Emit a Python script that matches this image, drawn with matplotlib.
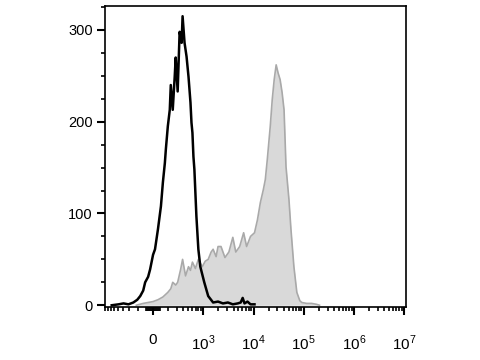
import numpy as np
import matplotlib
matplotlib.use("Agg")
import matplotlib.pyplot as plt

plt.rcParams['font.family'] = ['Liberation Sans', 'DejaVu Sans']
plt.rcParams['mathtext.fontset'] = 'custom'
plt.rcParams['mathtext.rm'] = 'Liberation Sans'

# unstained control (black line): fluorescence intensity vs count
ctrl_x = [-823, -686, -588, -490, -392, -314, -255, -196, -157, -98, -59, 0, 39, 98,
          157, 196, 235, 255, 294, 333, 353, 392, 431, 451, 490, 529, 569, 588, 627,
          667, 706, 745, 765, 784, 804, 823, 863, 902, 941, 1046, 1253, 1570, 1968,
          2465, 3090, 3873, 4853, 5560, 6085, 6620, 7580, 8720, 10470]
ctrl_y = [0, 1, 2, 1, 3, 6, 10, 16, 25, 31, 39, 55, 61, 83,
          108, 134, 155, 170, 195, 213, 240, 213, 249, 270, 233, 298, 286, 315, 286,
          271, 249, 221, 199, 188, 162, 148, 97, 61, 42, 25, 10, 3, 4,
          2, 3, 1, 2, 3, 8, 2, 4, 1, 1]

# stained sample (grey filled)
stain_x = [-333, -196, -98, 0, 98, 196, 294, 353, 392, 451, 490, 549, 588, 647, 706,
           745, 784, 843, 902, 980, 1095, 1253, 1434, 1570, 1800, 1968, 2254, 2700,
           3235, 3873, 4436, 5310, 6360, 7290, 8720, 10470, 11970, 13700, 15700,
           17180, 18830, 21550, 23590, 25820, 28250, 30930, 33830, 37040, 40550,
           44360, 50800, 55600, 63700, 72900, 83500, 91300, 114500, 143600, 180000,
           206000]
stain_y = [0, 2, 3, 4, 6, 9, 14, 18, 25, 22, 25, 39, 50, 32, 42,
           38, 47, 40, 50, 42, 48, 50, 58, 61, 53, 64, 64, 52,
           58, 74, 58, 64, 79, 64, 75, 79, 93, 112, 126,
           137, 159, 195, 224, 246, 262, 253, 246, 232, 213,
           151, 115, 83, 42, 14, 5, 3, 2, 2, 1,
           0]

major_ticks = [0, 1e3, 1e4, 1e5, 1e6, 1e7]
major_labels = ['0', r'$10^{3}$', r'$10^{4}$', r'$10^{5}$', r'$10^{6}$', r'$10^{7}$']

fig = plt.figure(figsize=(4.8, 3.6), dpi=100)
ax = fig.add_axes([0.219, 0.147, 0.627, 0.836])

ax.fill_between(stain_x, stain_y, 0, color='#d9d9d9', lw=0)
ax.plot(stain_x, stain_y, color='#a9a9a9', lw=1.2)
ax.plot(ctrl_x, ctrl_y, color='black', lw=1.8)

# linear zone 0..1000 takes one decade width
ax.set_xscale('symlog', linthresh=1000, linscale=0.9)
ax.set_xlim(-880, 1.09e7)
ax.set_ylim(-2, 326)

# minor ticks: log subdivisions in each decade, mirrored in linear zone
minor = []
for k in range(3, 7):
    for m in range(2, 10):
        minor.append(m * 10 ** k)
for m in range(2, 10):
    minor.append(1000 * np.log10(m))
    minor.append(-1000 * np.log10(m))
for v in range(20, 160, 20):
    minor.append(v)
    minor.append(-v)
ax.set_xticks(major_ticks)
ax.set_xticklabels(major_labels)
ax.set_xticks(minor, minor=True)

ax.set_yticks([0, 100, 200, 300])
ax.set_yticks(np.arange(0, 326, 25), minor=True)

ax.tick_params(axis='both', which='major', length=6, width=1.5, labelsize=10.5)
ax.tick_params(axis='both', which='minor', length=3, width=1.2)
ax.tick_params(axis='x', which='major', pad=13, labelsize=11)
ax.tick_params(axis='y', which='major', pad=3)
for s in ax.spines.values():
    s.set_linewidth(1.2)

fig.savefig('out.png', dpi=100)
